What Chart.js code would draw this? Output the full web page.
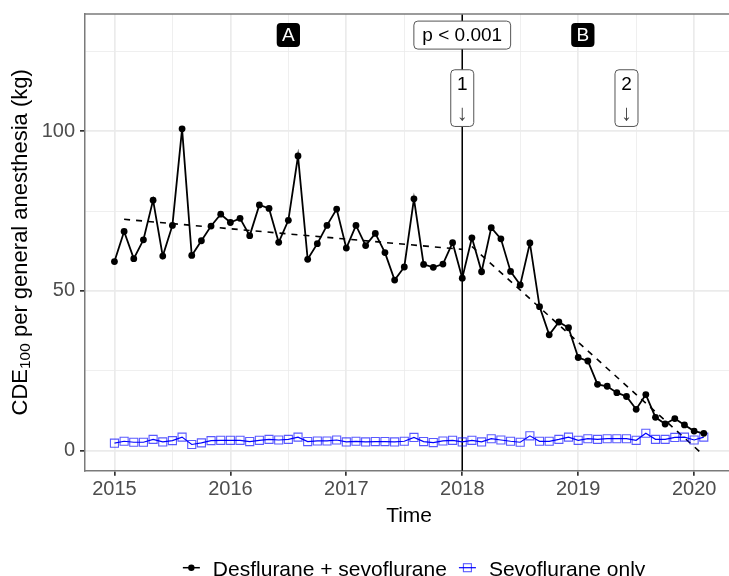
<!DOCTYPE html>
<html>
<head>
<meta charset="utf-8">
<script src="https://cdn.jsdelivr.net/npm/chart.js@4"></script>
<style>
  html, body { margin: 0; padding: 0; background: #fff; overflow: hidden; }
  canvas { display: block; }
</style>
</head>
<body>
<!-- the panel runs past the right edge of the window, so the canvas is a bit wider -->
<canvas id="cdeChart" width="740" height="576"></canvas>
<script>
// Monthly CDE100 per general anesthesia (kg), Jan 2015 - Feb 2020
const startYear = 2015;
const desSevo = [
  59.2, 68.6, 60.1, 66.0, 78.4, 60.9, 70.5, 100.7, 61.1, 65.7, 70.3, 74.0,
  71.4, 72.7, 67.3, 76.9, 75.8, 65.2, 72.1, 92.2, 59.9, 64.8, 70.5, 75.6,
  63.4, 70.5, 64.2, 68.0, 62.0, 53.4, 57.5, 78.8, 58.3, 57.4, 58.4, 65.1,
  54.0, 66.6, 56.0, 69.8, 66.3, 56.1, 51.9, 65.0, 45.1, 36.3, 40.3, 38.5,
  29.2, 28.1, 20.8, 20.2, 18.2, 17.0, 13.0, 17.6, 10.5, 8.4, 10.1, 8.1,
  6.2, 5.5
];
const sevoOnly = [
  2.4, 3.0, 2.7, 2.7, 3.6, 2.8, 3.2, 4.3, 2.0, 2.5, 3.2, 3.3,
  3.3, 3.3, 2.9, 3.3, 3.6, 3.4, 3.6, 4.3, 2.9, 3.1, 3.1, 3.4,
  2.8, 3.0, 2.8, 2.9, 2.9, 2.8, 3.0, 4.2, 2.9, 2.6, 3.1, 3.3,
  2.8, 3.3, 2.8, 3.8, 3.4, 3.0, 2.7, 4.7, 3.0, 3.0, 3.6, 4.3,
  3.3, 3.8, 3.6, 3.8, 3.8, 3.8, 3.3, 5.5, 3.6, 3.6, 4.2, 4.3,
  3.4, 4.3
];

// segmented regression fit (month index -> fitted value)
const trendPreMonths = [1, 36];
const trendPre = [72.4, 63.0];
const trendPostMonths = [37, 61];
const trendPost = [63.9, -1.4];

const seriesNames = ['Desflurane + sevoflurane', 'Sevoflurane only'];
const xTickYears = [2015, 2016, 2017, 2018, 2019, 2020];
const yTickValues = [0, 50, 100];

// intervention at Jan 2018, events 1 and 2
const interventionYear = 2018;
const eventMarks = [
  { year: 2018, label: '1' },
  { year: 2019 + 5 / 12, label: '2' }
];
const periodLabels = [
  { year: 2016.5, label: 'A' },
  { year: 2019.04, label: 'B' }
];
const pText = 'p < 0.001';

const FONT = '"Liberation Sans", Arial, sans-serif';
const X_MIN = 2014.746, X_MAX = 2020.337;

function toYear(i) { return startYear + i / 12; }
function toPoints(values, months) {
  return values.map((v, i) => ({ x: toYear(months ? months[i] : i), y: v }));
}

// major + minor grid positions
const xGrid = [];
for (let y = 2014.5; y <= 2020.5; y += 0.5) xGrid.push(y);
const yGrid = [0, 25, 50, 75, 100, 125];

function roundRect(ctx, x, y, w, h, r) {
  ctx.beginPath();
  ctx.moveTo(x + r, y);
  ctx.arcTo(x + w, y, x + w, y + h, r);
  ctx.arcTo(x + w, y + h, x, y + h, r);
  ctx.arcTo(x, y + h, x, y, r);
  ctx.arcTo(x, y, x + w, y, r);
  ctx.closePath();
}

// boxed text label; lines = [{ text, dy, size, color }]
function drawLabel(ctx, cx, cy, lines, box) {
  ctx.save();
  let tw = 0;
  lines.forEach(l => {
    ctx.font = (l.size || 19) + 'px ' + FONT;
    tw = Math.max(tw, ctx.measureText(l.text).width);
  });
  const w = tw + box.padX * 2;
  const h = box.h;
  roundRect(ctx, cx - w / 2, cy - h / 2, w, h, 4);
  ctx.fillStyle = box.fill;
  ctx.fill();
  if (box.stroke) {
    ctx.strokeStyle = box.stroke;
    ctx.lineWidth = 1;
    ctx.stroke();
  }
  ctx.textAlign = 'center';
  ctx.textBaseline = 'middle';
  lines.forEach(l => {
    ctx.font = (l.size || 19) + 'px ' + FONT;
    ctx.fillStyle = l.color;
    ctx.fillText(l.text, cx, cy + (l.dy || 0));
  });
  ctx.restore();
}

const overlays = {
  id: 'overlays',
  beforeDatasetsDraw(chart) {
    const { ctx, chartArea, scales } = chart;
    const x = scales.x.getPixelForValue(interventionYear);
    ctx.save();
    ctx.strokeStyle = '#000';
    ctx.lineWidth = 1.5;
    ctx.beginPath();
    ctx.moveTo(x, chartArea.top);
    ctx.lineTo(x, chartArea.bottom);
    ctx.stroke();
    ctx.restore();
  },
  afterDatasetsDraw(chart) {
    const { ctx, scales } = chart;
    const xs = scales.x, ys = scales.y;
    periodLabels.forEach(p => {
      drawLabel(ctx, xs.getPixelForValue(p.year), ys.getPixelForValue(130),
        [{ text: p.label, color: '#fff', dy: 0.5 }],
        { padX: 5.3, h: 24, fill: '#000' });
    });
    drawLabel(ctx, xs.getPixelForValue(interventionYear), ys.getPixelForValue(130),
      [{ text: pText, color: '#000', dy: 0.5 }],
      { padX: 8.5, h: 28, fill: '#fff', stroke: '#555' });
    eventMarks.forEach(e => {
      drawLabel(ctx, xs.getPixelForValue(e.year), ys.getPixelForValue(110.3),
        [{ text: e.label, color: '#000', dy: -13.5 }, { text: '↓', color: '#444', dy: 15.5, size: 22 }],
        { padX: 6, h: 56.7, fill: '#fff', stroke: '#555' });
    });
  },
  afterDraw(chart) {
    const { ctx, chartArea, scales } = chart;
    ctx.save();
    // panel top border
    ctx.strokeStyle = '#7a7a7a';
    ctx.lineWidth = 1.5;
    ctx.beginPath();
    ctx.moveTo(chartArea.left, chartArea.top);
    ctx.lineTo(chartArea.right, chartArea.top);
    ctx.stroke();

    const midX = scales.x.getPixelForValue((X_MIN + X_MAX) / 2);

    // x axis title
    ctx.fillStyle = '#000';
    ctx.font = '21px ' + FONT;
    ctx.textAlign = 'center';
    ctx.textBaseline = 'middle';
    ctx.fillText('Time', midX, 516);

    // y axis title with subscript
    const midY = (chartArea.top + chartArea.bottom) / 2;
    ctx.translate(21, midY);
    ctx.rotate(-Math.PI / 2);
    const big = '22px ' + FONT, small = '15.5px ' + FONT;
    const parts = [['CDE', big, 0], ['100', small, 5], [' per general anesthesia (kg)', big, 0]];
    let total = 0;
    parts.forEach(p => { ctx.font = p[1]; total += ctx.measureText(p[0]).width; });
    let px = -total / 2;
    ctx.textAlign = 'left';
    parts.forEach(p => {
      ctx.font = p[1];
      ctx.fillText(p[0], px, p[2]);
      px += ctx.measureText(p[0]).width;
    });
    ctx.restore();

    // legend
    ctx.save();
    ctx.font = '21px ' + FONT;
    const ly = 567.7;
    const keyW = 17, gap = 13, itemGap = 12;
    const w1 = ctx.measureText(seriesNames[0]).width;
    const w2 = ctx.measureText(seriesNames[1]).width;
    const totalW = keyW + gap + w1 + itemGap + keyW + gap + w2;
    let lx = midX + 5 - totalW / 2;
    // black key
    ctx.strokeStyle = '#000';
    ctx.lineWidth = 1.5;
    ctx.beginPath(); ctx.moveTo(lx, ly); ctx.lineTo(lx + keyW, ly); ctx.stroke();
    ctx.fillStyle = '#000';
    ctx.beginPath(); ctx.arc(lx + keyW / 2, ly, 3.2, 0, Math.PI * 2); ctx.fill();
    ctx.textAlign = 'left';
    ctx.textBaseline = 'middle';
    ctx.fillText(seriesNames[0], lx + keyW + gap, ly + 3);
    lx += keyW + gap + w1 + itemGap;
    // blue key
    ctx.strokeStyle = '#0000ff';
    ctx.lineWidth = 1.2;
    ctx.beginPath(); ctx.moveTo(lx, ly); ctx.lineTo(lx + keyW, ly); ctx.stroke();
    ctx.strokeStyle = 'rgba(0,0,255,0.65)';
    ctx.lineWidth = 1.1;
    ctx.strokeRect(lx + keyW / 2 - 4, ly - 4, 8, 8);
    ctx.fillStyle = '#000';
    ctx.fillText(seriesNames[1], lx + keyW + gap, ly + 3);
    ctx.restore();
  }
};

const ctx = document.getElementById('cdeChart').getContext('2d');
new Chart(ctx, {
  type: 'line',
  data: {
    datasets: [
      {
        label: seriesNames[0],
        data: toPoints(desSevo),
        borderColor: '#000',
        backgroundColor: '#000',
        borderWidth: 1.8,
        pointRadius: 3.4,
        pointBorderWidth: 0,
        tension: 0
      },
      {
        label: seriesNames[1],
        data: toPoints(sevoOnly),
        borderColor: '#0000ff',
        borderWidth: 1.2,
        pointStyle: 'rect',
        pointRadius: 5.7,
        pointBorderWidth: 1.1,
        pointBorderColor: 'rgba(0,0,255,0.65)',
        pointBackgroundColor: 'rgba(0,0,0,0)',
        tension: 0
      },
      {
        label: 'trend pre',
        data: toPoints(trendPre, trendPreMonths),
        borderColor: '#000',
        borderWidth: 1.6,
        borderDash: [6, 6],
        pointRadius: 0
      },
      {
        label: 'trend post',
        data: toPoints(trendPost, trendPostMonths),
        borderColor: '#000',
        borderWidth: 1.6,
        borderDash: [6, 6],
        pointRadius: 0
      }
    ]
  },
  options: {
    responsive: false,
    animation: false,
    devicePixelRatio: 1,
    layout: { padding: { top: 14, right: 0, left: 0, bottom: 0 } },
    plugins: {
      legend: { display: false },
      tooltip: { enabled: false }
    },
    scales: {
      x: {
        type: 'linear',
        min: X_MIN,
        max: X_MAX,
        afterBuildTicks: s => { s.ticks = xGrid.filter(v => v > X_MIN && v < X_MAX).map(v => ({ value: v })); },
        afterFit: s => { s.height = 105.3; s.paddingLeft = 0; s.paddingRight = 0; },
        grid: {
          color: '#ebebeb',
          lineWidth: c => Number.isInteger(c.tick.value) ? 1.7 : 0.8,
          tickColor: c => Number.isInteger(c.tick.value) ? '#333' : 'rgba(0,0,0,0)',
          tickLength: 5
        },
        border: { display: true, color: '#7a7a7a', width: 1.5 },
        ticks: {
          autoSkip: false,
          maxRotation: 0,
          padding: 2,
          color: '#4d4d4d',
          font: { family: FONT, size: 20 },
          callback: v => xTickYears.includes(v) ? String(v) : ''
        }
      },
      y: {
        min: -6.2,
        max: 136.6,
        afterBuildTicks: s => { s.ticks = yGrid.map(v => ({ value: v })); },
        afterFit: s => { s.width = 85; s.paddingTop = 0; s.paddingBottom = 0; },
        grid: {
          color: '#ebebeb',
          lineWidth: c => yTickValues.includes(c.tick.value) ? 1.7 : 0.8,
          tickColor: c => yTickValues.includes(c.tick.value) ? '#333' : 'rgba(0,0,0,0)',
          tickLength: 5
        },
        border: { display: true, color: '#7a7a7a', width: 1.5 },
        ticks: {
          padding: 5,
          color: '#4d4d4d',
          font: { family: FONT, size: 20 },
          callback: v => yTickValues.includes(v) ? String(v) : ''
        }
      }
    }
  },
  plugins: [overlays]
});
</script>
</body>
</html>
